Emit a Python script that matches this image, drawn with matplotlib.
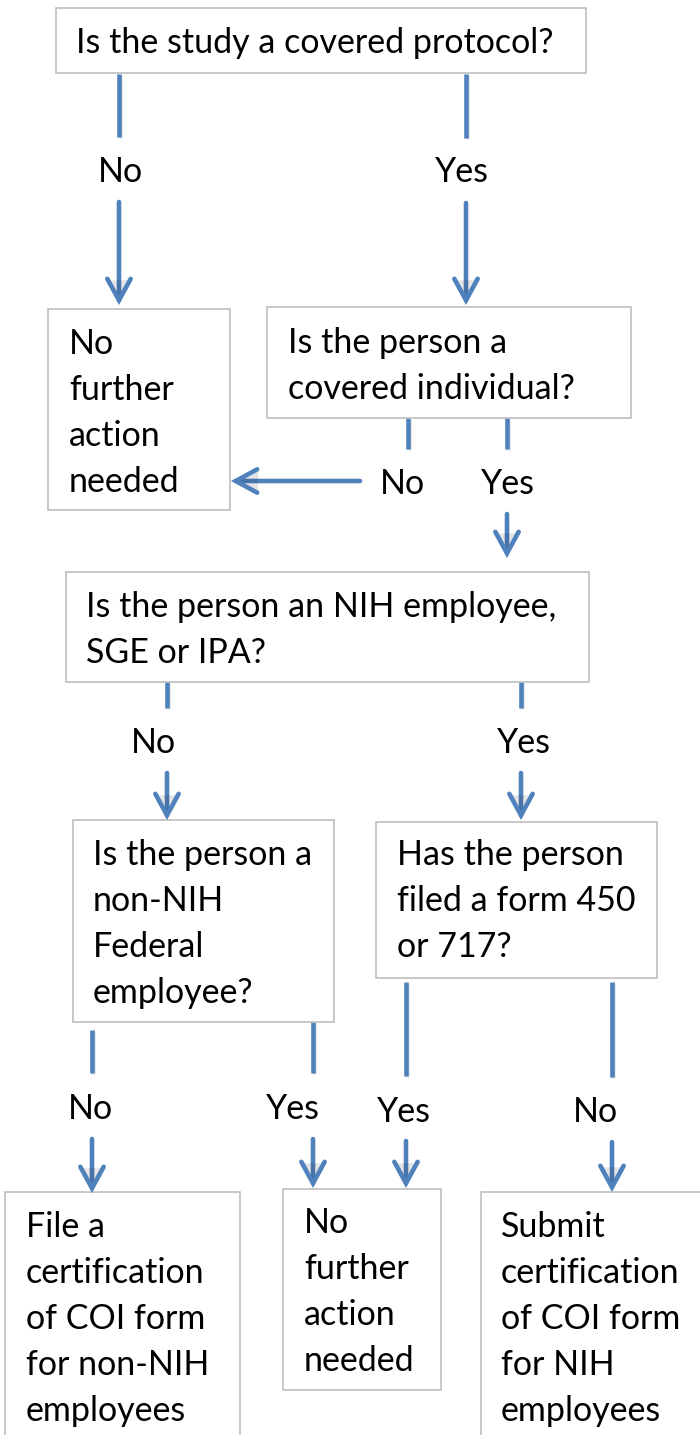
"""Flowchart: covered protocol / COI certification decision tree."""

import matplotlib

matplotlib.use("Agg")
import matplotlib.pyplot as plt
import matplotlib.patheffects as pe
from matplotlib.patches import FancyArrowPatch, Rectangle

plt.rcParams["font.family"] = ["Lato", "DejaVu Sans"]

# --- content -------------------------------------------------------------
box_texts = [
    "Is the study a covered protocol?",
    "No\nfurther\naction\nneeded",
    "Is the person a\ncovered individual?",
    "Is the person an NIH employee,\nSGE or IPA?",
    "Is the person a\nnon-NIH\nFederal\nemployee?",
    "Has the person\nfiled a form 450\nor 717?",
    "File a\ncertification\nof COI form\nfor non-NIH\nemployees",
    "No\nfurther\naction\nneeded",
    "Submit\ncertification\nof COI form\nfor NIH\nemployees",
]
branch_labels = ["No", "Yes", "No", "Yes", "No", "Yes", "No", "Yes", "Yes", "No"]

# --- layout (pixels, y grows downward) -----------------------------------
box_rects = [
    (56, 8, 586, 73),
    (48, 309, 230, 510),
    (267, 307, 631, 418),
    (66, 572, 589, 682),
    (73, 820, 334, 1022),
    (376, 822, 657, 978),
    (5, 1192, 240, 1470),
    (283, 1189, 441, 1390),
    (481, 1192, 730, 1470),
]
text_anchor = [
    (76, 53), (69, 354), (288, 353), (86, 617), (93, 865),
    (397, 865), (26, 1237), (304, 1233), (501, 1237),
]
line_step = 46

label_pos = [
    (120, 182), (462, 182), (402, 494), (508, 494), (153, 753),
    (524, 753), (90, 1119), (293, 1119), (404, 1122), (595, 1122),
]

# plain segments (x, y_top, y_bottom)
stubs = [
    (119, 74, 137), (466, 74, 138),
    (408, 418, 449), (507, 418, 449),
    (167, 682, 708), (521, 682, 708),
    (92, 1030, 1073), (313, 1022, 1073),
    (406, 982, 1076), (612, 982, 1077),
]
# arrows (x_start, y_start, x_tip, y_tip)
arrows = [
    (119, 202, 119, 305), (466, 203, 466, 305),
    (360, 481, 231, 481), (507, 514, 507, 558),
    (167, 773, 167, 820), (521, 773, 521, 820),
    (92, 1139, 92, 1193), (313, 1139, 313, 1188),
    (406, 1141, 406, 1188), (612, 1142, 612, 1192),
]

BLUE = "#4F81BD"
EDGE = "#BFBFBF"
FONT_SIZE = 24.5
shadow = [pe.SimpleLineShadow(offset=(0.8, -1.0), shadow_color="#000000", alpha=0.10), pe.Normal()]
patch_shadow = [pe.SimplePatchShadow(offset=(0.8, -1.0), shadow_rgbFace="#000000", alpha=0.10), pe.Normal()]


def main():
    fig = plt.figure(figsize=(7, 14.35), dpi=100)
    ax = fig.add_axes([0, 0, 1, 1])
    ax.set_xlim(0, 700)
    ax.set_ylim(1435, 0)
    ax.axis("off")

    for (x0, y0, x1, y1), txt, (tx, ty) in zip(box_rects, box_texts, text_anchor):
        ax.add_patch(Rectangle((x0, y0), x1 - x0, y1 - y0, facecolor="white",
                               edgecolor=EDGE, linewidth=1.2, zorder=2))
        for i, line in enumerate(txt.split("\n")):
            ax.text(tx, ty + i * line_step, line, fontsize=FONT_SIZE,
                    ha="left", va="baseline", color="black", zorder=3)

    for lab, (lx, ly) in zip(branch_labels, label_pos):
        ax.text(lx, ly, lab, fontsize=FONT_SIZE, ha="center", va="baseline",
                color="black", zorder=3)

    for x, ya, yb in stubs:
        ax.plot([x, x], [ya, yb], color=BLUE, lw=3.3, solid_capstyle="butt",
                zorder=1, path_effects=shadow)

    for xs, ys, xt, yt in arrows:
        arr = FancyArrowPatch((xs, ys), (xt, yt),
                              arrowstyle="->,head_length=1.1,head_width=0.6",
                              mutation_scale=14, color=BLUE, lw=3.3,
                              shrinkA=0, shrinkB=0, capstyle="round",
                              joinstyle="miter", zorder=4,
                              path_effects=patch_shadow)
        ax.add_patch(arr)

    fig.savefig("out.png", dpi=100)
    plt.close(fig)


if __name__ == "__main__":
    main()
